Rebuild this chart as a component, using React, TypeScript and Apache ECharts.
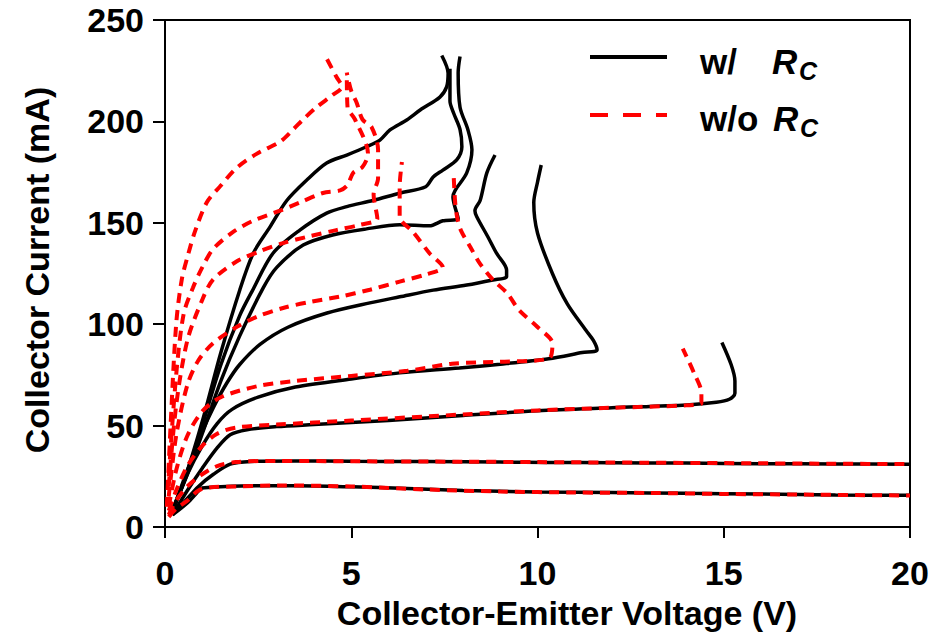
import React, { useEffect, useRef } from "react";
import * as echarts from "echarts";

// ---- data: [Vce (V), Ic (mA)] ----
// with Rc (black solid)
const withRc1 = [[0.2,6],[0.6,11.8],[0.85,16.8],[1.0,19.2],[1.5,19.8],[2.5,20.3],[3.5,20.3],[5,19.8],[6.5,19],[8,18],[10,17.3],[12,17],[14,16.6],[16,16.3],[18,15.8],[20,15.6]];
const withRc2 = [[0.2,6],[0.5,12],[0.9,20],[1.3,26],[1.75,31],[2.3,32.3],[3.5,32.6],[5,32.4],[7,32.3],[9,32],[10.3,31.8],[12,31.7],[14,31.5],[16,31.2],[18,31.1],[20,31]];
const withRc3 = [[0.2,6],[0.6,18],[1.0,29],[1.4,39],[1.75,45.5],[2.2,48],[3,49.5],[4,50.5],[6,52.5],[8,55],[10,57.3],[12,58.8],[14,60.2],[14.8,61.5],[15.15,63],[15.3,66],[15.3,72],[15.2,80],[14.95,91]];
const withRc4 = [[0.2,8],[0.6,26],[1.0,40],[1.4,51],[1.8,58],[2.5,64],[3.5,69],[5,73],[6.3,76],[7.9,78.4],[9,80.3],[10.3,83],[11.2,86],[11.6,87.3],[11.5,92],[11.3,97],[10.8,110],[10.4,125],[10.0,145],[9.9,160],[10.0,170],[10.1,178.5]];
const withRc5 = [[0.2,8],[0.6,28],[1.0,47],[1.3,59],[1.66,71],[2.0,80],[2.55,90],[3.3,98.5],[4.35,105.5],[5.5,110.5],[6.3,113.5],[7.2,116.8],[8.1,119.3],[8.8,121.8],[9.17,123.4],[9.17,126.7],[8.9,135],[8.67,143],[8.37,153],[8.32,156],[8.46,161],[8.64,174.6],[8.86,183.4]];
const withRc6 = [[0.2,8],[0.6,26],[1.0,46],[1.5,72],[2.0,94],[2.64,118],[3.0,128],[3.71,139],[4.5,144],[5.41,147],[6.3,149],[7.1,148.5],[7.46,151],[7.87,152],[7.73,162.7],[7.79,166],[8.1,174.6],[8.24,186],[8.13,196],[7.92,207],[7.87,224],[7.92,232]];
const withRc7 = [[0.2,8],[0.6,27],[1.0,50],[1.5,80],[2.0,104],[2.36,117],[2.9,135],[3.62,146.4],[4.34,154.8],[4.88,158],[5.58,161],[6.3,164.6],[7.0,167.8],[7.2,172.6],[7.46,176],[7.83,181],[7.97,187.5],[7.92,196],[7.75,204],[7.65,210],[7.65,226]];
const withRc8 = [[0.2,8],[0.5,22],[1.0,52],[1.5,86],[2.01,117],[2.37,135],[2.82,148],[3.27,161],[3.8,171],[4.34,179.5],[4.88,183.4],[5.41,187.5],[5.77,190.8],[6.04,195.8],[6.49,200.7],[6.85,205.6],[7.38,212],[7.56,217],[7.6,223.7],[7.43,232.5]];

// without Rc (red dashed)
const withoutRc1 = [[0.1,5],[0.3,9],[0.6,13],[0.9,18],[1.2,19.5],[2,20],[3,20.5],[5,20],[7,18.5],[9,17.5],[11,17],[13,16.8],[15,16.3],[17,16],[20,15.5]];
const withoutRc2 = [[0.1,6],[0.3,13],[0.6,20],[1.0,26],[1.4,30],[1.9,32],[3,32.6],[5,32.4],[8,32.2],[10,32],[12,31.8],[15,31.5],[18,31.2],[20,31]];
const withoutRc3 = [[0.1,8],[0.3,18],[0.6,30],[1.0,40],[1.4,46],[1.9,49],[3,50.5],[5,52.5],[8,55.5],[10,57.5],[12,58.8],[14,60],[14.4,61],[14.4,66],[14.2,76],[13.9,88]];
const withoutRc4 = [[0.1,10],[0.3,28],[0.6,45],[1.0,57],[1.5,64],[2.5,69.5],[3.5,72],[5,74.5],[6.5,77],[7.7,80.5],[9,81.5],[10.3,83],[10.4,90.5],[10.0,98.6],[9.5,107],[9.2,115],[8.8,122],[8.45,130],[8.2,138],[7.95,146],[7.85,152],[7.79,160],[7.75,173]];
const withoutRc5 = [[0.1,15],[0.3,45],[0.6,70],[0.89,82],[1.29,90.6],[1.93,98.7],[2.47,103.7],[3.17,108],[3.9,111],[4.7,113.6],[5.5,117],[6.3,121],[7.0,124.5],[7.46,128],[7.1,135],[6.66,145.5],[6.3,153],[6.3,168],[6.36,180]];
const withoutRc6 = [[0.1,20],[0.3,60],[0.6,92],[1.0,112],[1.29,122],[1.93,131],[2.55,136],[3.17,140],[3.8,143],[4.6,146.4],[5.23,149],[5.7,152],[5.6,164],[5.72,172],[5.72,186],[5.55,197],[5.3,201],[5.15,209],[5.0,215],[4.88,224]];
const withoutRc7 = [[0.1,25],[0.3,75],[0.5,105],[0.75,118],[1.0,128],[1.29,137],[1.83,145.5],[2.36,151],[3.09,156],[3.62,160],[4.24,164.7],[4.7,166],[4.9,168.6],[5.05,174.6],[5.3,177.5],[5.45,184],[5.1,201],[4.9,207],[4.88,224]];
const withoutRc8 = [[0.05,10],[0.15,50],[0.3,100],[0.45,122],[0.63,135],[0.81,146],[1.12,160],[1.48,168],[1.92,177],[2.46,184],[3.09,190],[3.44,196],[3.71,201],[4.07,207],[4.5,213],[4.75,217],[4.6,222],[4.34,231]];

const withRcCurves = [withRc1, withRc2, withRc3, withRc4, withRc5, withRc6, withRc7, withRc8];
const withoutRcCurves = [withoutRc1, withoutRc2, withoutRc3, withoutRc4, withoutRc5, withoutRc6, withoutRc7, withoutRc8];

const xTitle = "Collector-Emitter Voltage (V)";
const yTitle = "Collector Current (mA)";
const legendWith = "w/";
const legendWithout = "w/o";
const legendR = "R";
const legendC = "C";

const FONT = "'Liberation Sans', Arial, Helvetica, sans-serif";

export default function App() {
  const ref = useRef<HTMLDivElement>(null);
  useEffect(() => {
    const chart = echarts.init(ref.current!, null, { renderer: "svg" });
    const series: any[] = [];
    withRcCurves.forEach((d, i) => {
      series.push({
        name: "w/ Rc " + (i + 1),
        type: "line",
        data: d,
        showSymbol: false,
        smooth: 0.3,
        lineStyle: { color: "#000", width: 3.5 },
        z: 2,
      });
    });
    withoutRcCurves.forEach((d, i) => {
      series.push({
        name: "w/o Rc " + (i + 1),
        type: "line",
        data: d,
        showSymbol: false,
        smooth: 0.3,
        lineStyle: { color: "#ff0000", width: 4, type: [10, 7] },
        z: 3,
      });
    });
    const txt = (text: string, x: number, y: number, size: number, extra: any = {}) => ({
      type: "text",
      x,
      y,
      ...extra,
      style: {
        text,
        fill: "#000",
        font: `bold ${size}px ${FONT}`,
        align: extra.align || "left",
        textAlign: extra.align || "left",
        verticalAlign: "middle",
        textVerticalAlign: "middle",
      },
    });
    chart.setOption({
      animation: false,
      backgroundColor: "#fff",
      grid: {
        left: 165,
        right: 24,
        top: 20,
        bottom: 116,
        show: true,
        borderColor: "#000",
        borderWidth: 2,
      },
      xAxis: {
        type: "value",
        min: 0,
        max: 20,
        interval: 5,
        axisLine: { show: true, lineStyle: { color: "#000", width: 2 } },
        axisTick: { show: true, inside: false, length: 11, lineStyle: { color: "#000", width: 2 } },
        axisLabel: { color: "#000", fontSize: 34, fontWeight: "bold", fontFamily: FONT, margin: 29 },
        splitLine: { show: false },
      },
      yAxis: {
        type: "value",
        min: 0,
        max: 250,
        interval: 50,
        axisLine: { show: true, lineStyle: { color: "#000", width: 2 } },
        axisTick: { show: true, inside: false, length: 12, lineStyle: { color: "#000", width: 2 } },
        axisLabel: { color: "#000", fontSize: 34, fontWeight: "bold", fontFamily: FONT, margin: 21 },
        splitLine: { show: false },
      },
      series,
      graphic: [
        txt(xTitle, 567, 613, 34, { align: "center" }),
        { ...txt(yTitle, 37, 270, 34, { align: "center" }), rotation: Math.PI / 2 },
        { type: "line", shape: { x1: 590, y1: 57, x2: 667, y2: 57 }, style: { stroke: "#000", lineWidth: 4 } },
        { type: "line", shape: { x1: 590, y1: 115, x2: 667, y2: 115 }, style: { stroke: "#ff0000", lineWidth: 4, lineDash: [18, 15] } },
        txt(legendWith, 700, 61, 35),
        txt(legendWithout, 700, 118, 35),
        {
          type: "text", x: 772, y: 61,
          style: { text: legendR, fill: "#000", font: `italic bold 35px ${FONT}`, align: "left", textAlign: "left", verticalAlign: "middle", textVerticalAlign: "middle" },
        },
        {
          type: "text", x: 799, y: 71,
          style: { text: legendC, fill: "#000", font: `italic bold 25px ${FONT}`, align: "left", textAlign: "left", verticalAlign: "middle", textVerticalAlign: "middle" },
        },
        {
          type: "text", x: 773, y: 118,
          style: { text: legendR, fill: "#000", font: `italic bold 35px ${FONT}`, align: "left", textAlign: "left", verticalAlign: "middle", textVerticalAlign: "middle" },
        },
        {
          type: "text", x: 800, y: 128,
          style: { text: legendC, fill: "#000", font: `italic bold 25px ${FONT}`, align: "left", textAlign: "left", verticalAlign: "middle", textVerticalAlign: "middle" },
        },
      ],
    });
    return () => chart.dispose();
  }, []);
  return (
    <div
      ref={ref}
      style={{ position: "fixed", left: 0, top: 0, width: 934, height: 643, background: "#fff" }}
    />
  );
}
